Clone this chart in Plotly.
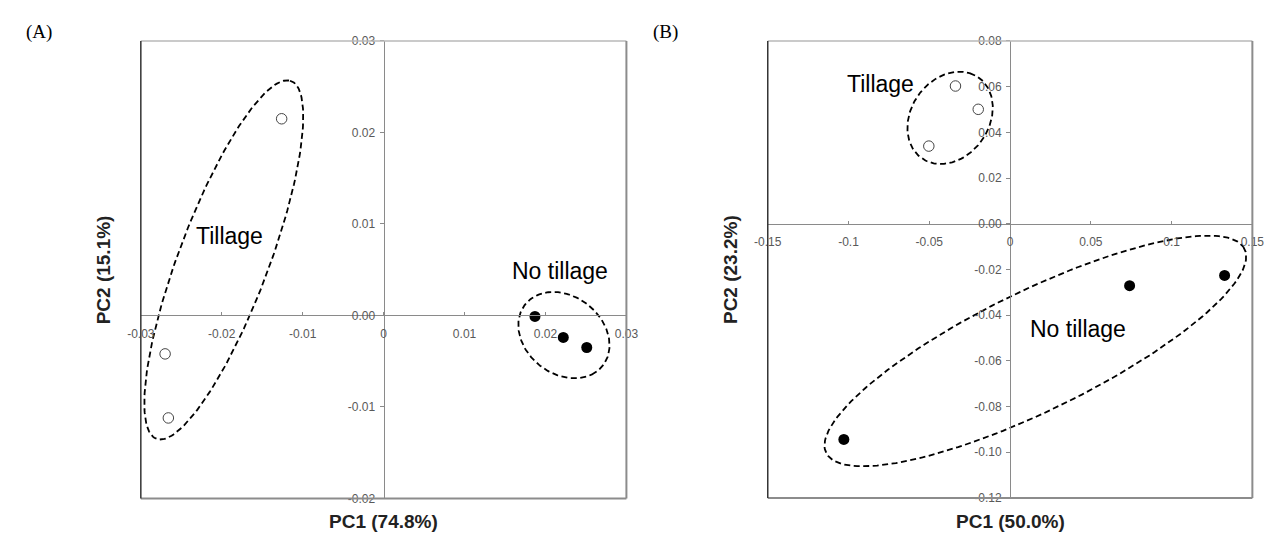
import numpy as np
import plotly.graph_objects as go

# ---------------- data ----------------
# Panel A
a_till_x = [-0.0126, -0.0270, -0.0266]
a_till_y = [0.0215, -0.0042, -0.0112]
a_notill_x = [0.0187, 0.0222, 0.0251]
a_notill_y = [-0.0001, -0.0024, -0.0035]
a_xticks = [-0.03, -0.02, -0.01, 0, 0.01, 0.02, 0.03]
a_xtext = ["-0.03", "-0.02", "-0.01", "0", "0.01", "0.02", "0.03"]
a_yticks = [-0.02, -0.01, 0.0, 0.01, 0.02, 0.03]
a_ytext = ["-0.02", "-0.01", "0.00", "0.01", "0.02", "0.03"]

# Panel B
b_till_x = [-0.0338, -0.0197, -0.0503]
b_till_y = [0.0603, 0.0501, 0.0340]
b_notill_x = [0.0740, 0.1328, -0.1029]
b_notill_y = [-0.0271, -0.0226, -0.0944]
b_xticks = [-0.15, -0.1, -0.05, 0, 0.05, 0.1, 0.15]
b_xtext = ["-0.15", "-0.1", "-0.05", "0", "0.05", "0.1", "0.15"]
b_yticks = [-0.12, -0.10, -0.08, -0.06, -0.04, -0.02, 0.0, 0.02, 0.04, 0.06, 0.08]
b_ytext = ["-0.12", "-0.10", "-0.08", "-0.06", "-0.04", "-0.02", "0.00",
           "0.02", "0.04", "0.06", "0.08"]

# group ellipses: centre, semi-axis vector 1, semi-axis vector 2 (data units)
a_till_ell = [(-0.01975, 0.00607), (0.00818, 0.01959), (0.00543, -0.00121)]
a_notill_ell = [(0.02228, -0.00215), (0.00341, -0.00432), (0.00449, 0.00190)]
b_till_ell = [(-0.03713, 0.04638), (0.01206, 0.01957), (0.02353, -0.00505)]
b_notill_ell = [(0.01566, -0.05566), (0.12868, 0.04564), (0.02199, -0.02156)]

axis_titles_x = ["PC1 (74.8%)", "PC1 (50.0%)"]
axis_titles_y = ["PC2 (15.1%)", "PC2 (23.2%)"]
panel_tags = ["(A)", "(B)"]

# ---------------- figure ----------------
W, H = 1274, 533
fig = go.Figure()

def ell_pts(e):
    (cx, cy), (ux, uy), (vx, vy) = e
    t = np.linspace(0, 2 * np.pi, 200)
    return cx + ux * np.cos(t) + vx * np.sin(t), cy + uy * np.cos(t) + vy * np.sin(t)

panels = [
    dict(xa="x", ya="y", till=(a_till_x, a_till_y), notill=(a_notill_x, a_notill_y),
         ells=[a_till_ell, a_notill_ell]),
    dict(xa="x2", ya="y2", till=(b_till_x, b_till_y), notill=(b_notill_x, b_notill_y),
         ells=[b_till_ell, b_notill_ell]),
]

for p in panels:
    for e in p["ells"]:
        ex, ey = ell_pts(e)
        fig.add_trace(go.Scatter(x=ex, y=ey, mode="lines", xaxis=p["xa"], yaxis=p["ya"],
                                 line=dict(color="black", width=1.8, dash="6px,3.5px"),
                                 hoverinfo="skip", showlegend=False))
    fig.add_trace(go.Scatter(x=p["till"][0], y=p["till"][1], mode="markers",
                             xaxis=p["xa"], yaxis=p["ya"], showlegend=False,
                             marker=dict(size=10.5, color="white",
                                         line=dict(color="#444444", width=1))))
    fig.add_trace(go.Scatter(x=p["notill"][0], y=p["notill"][1], mode="markers",
                             xaxis=p["xa"], yaxis=p["ya"], showlegend=False,
                             marker=dict(size=11, color="black",
                                         line=dict(color="black", width=0))))

# plot-box positions (pixels)
boxA = (121.3, 617.0, 26.7, 496.5)
boxB = (761.3, 1256.0, 26.7, 496.0)
ranges = [((-0.03, 0.03), (-0.02, 0.03)), ((-0.15, 0.15), (-0.12, 0.08))]

def dom(box):
    x0, x1, y0, y1 = box
    return [x0 / W, x1 / W], [1 - y1 / H, 1 - y0 / H]

tick_font = dict(family="Liberation Sans, Arial, sans-serif", size=12, color="#595959")
layout_axes = {}
for i, (box, (xr, yr), xt, xtt, yt, ytt) in enumerate(
        [(boxA, ranges[0], a_xticks, a_xtext, a_yticks, a_ytext),
         (boxB, ranges[1], b_xticks, b_xtext, b_yticks, b_ytext)]):
    xd, yd = dom(box)
    sx = "" if i == 0 else "2"
    ypos = yd[0] + (0 - yr[0]) / (yr[1] - yr[0]) * (yd[1] - yd[0])
    xpos = xd[0] + (0 - xr[0]) / (xr[1] - xr[0]) * (xd[1] - xd[0])
    layout_axes["xaxis" + sx] = dict(
        domain=xd, range=list(xr), anchor="free", position=ypos,
        showline=True, linecolor="#8a8a8a", linewidth=1, showgrid=False, zeroline=False,
        tickmode="array", tickvals=xt, ticktext=xtt, ticks="inside", ticklen=3,
        tickcolor="#8a8a8a", tickfont=tick_font, ticklabelstandoff=7)
    layout_axes["yaxis" + sx] = dict(
        domain=yd, range=list(yr), anchor="free", position=xpos,
        showline=True, linecolor="#8a8a8a", linewidth=1, showgrid=False, zeroline=False,
        tickmode="array", tickvals=yt, ticktext=ytt, ticks="outside", ticklen=4,
        tickcolor="#8a8a8a", tickfont=tick_font, ticklabelstandoff=2)

fig.update_layout(width=W, height=H, margin=dict(l=0, r=0, t=0, b=0),
                  paper_bgcolor="white", plot_bgcolor="white", showlegend=False,
                  **layout_axes)

# plot-area borders
shapes = []
for sx in ["", "2"]:
    xr_ = "x" + sx + " domain"
    yr_ = "y" + sx + " domain"
    shapes += [
        dict(type="line", xref=xr_, yref=yr_, x0=0, x1=1, y0=1, y1=1,
             line=dict(color="#b8b8b8", width=1.5)),
        dict(type="line", xref=xr_, yref=yr_, x0=1, x1=1, y0=0, y1=1,
             line=dict(color="#8c8c8c", width=2)),
        dict(type="line", xref=xr_, yref=yr_, x0=0, x1=1, y0=0, y1=0,
             line=dict(color="#8c8c8c", width=2)),
        dict(type="line", xref=xr_, yref=yr_, x0=0, x1=0, y0=0, y1=1,
             line=dict(color="#333333", width=1.5)),
    ]
fig.update_layout(shapes=shapes)

group_font = dict(family="Liberation Sans, Arial, sans-serif", size=23, color="black")
title_font = dict(family="Liberation Sans, Arial, sans-serif", size=19, color="#222222")
ann = [
    dict(x=-0.0191, y=0.0087, xref="x", yref="y", text="Tillage"),
    dict(x=0.0218, y=0.0049, xref="x", yref="y", text="No tillage"),
    dict(x=-0.0801, y=0.0612, xref="x2", yref="y2", text="Tillage"),
    dict(x=0.0421, y=-0.0462, xref="x2", yref="y2", text="No tillage"),
]
for a in ann:
    fig.add_annotation(**a, showarrow=False, font=group_font, xanchor="center", yanchor="middle")

for i, box in enumerate([boxA, boxB]):
    x0, x1, y0, y1 = box
    fig.add_annotation(x=(x0 + x1) / 2 / W, y=1 - 520 / H, xref="paper", yref="paper",
                       text="<b>" + axis_titles_x[i] + "</b>", showarrow=False,
                       font=title_font, xanchor="center", yanchor="middle")
    fig.add_annotation(x=(x0 - 38) / W, y=1 - (y0 + y1) / 2 / H, xref="paper", yref="paper",
                       text="<b>" + axis_titles_y[i] + "</b>", showarrow=False,
                       font=title_font, textangle=-90, xanchor="center", yanchor="middle")
    fig.add_annotation(x=(x0 - 119) / W, y=1 - 17 / H, xref="paper", yref="paper",
                       text=panel_tags[i], showarrow=False,
                       font=dict(family="Liberation Serif, Times New Roman, serif", size=19,
                                 color="black"),
                       xanchor="left", yanchor="middle")

fig.write_html("out.html")
